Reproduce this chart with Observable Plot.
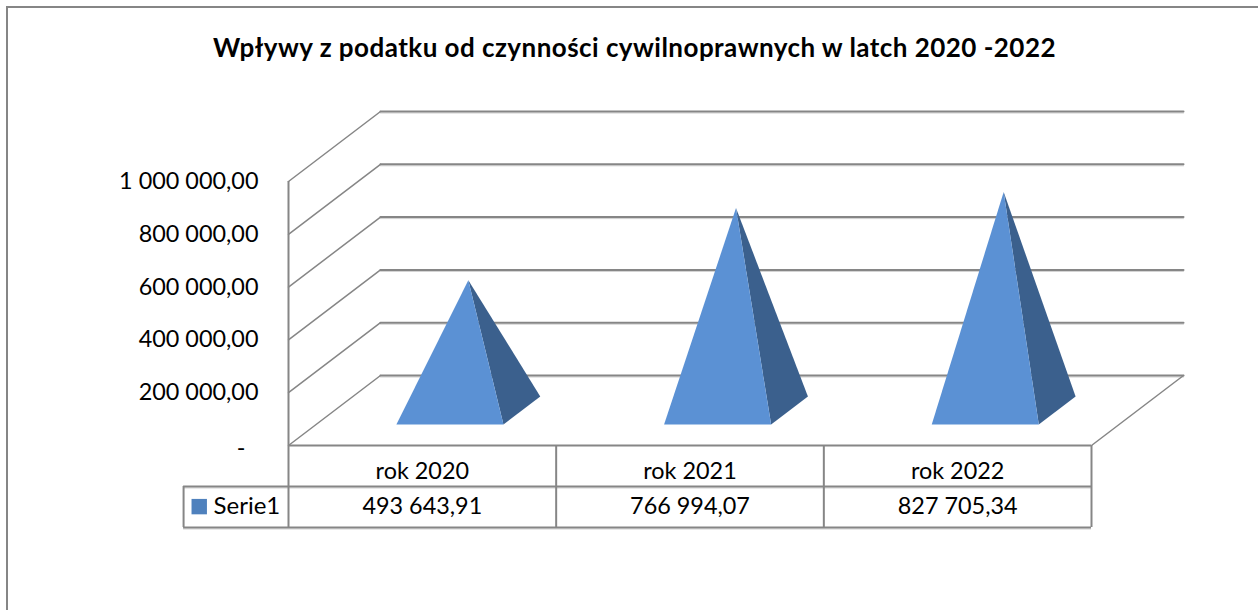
<!DOCTYPE html>
<html lang="pl">
<head>
<meta charset="utf-8">
<script src="https://cdn.jsdelivr.net/npm/d3@7"></script>
<script src="https://cdn.jsdelivr.net/npm/@observablehq/plot@0.6"></script>
<style>
html,body{margin:0;padding:0;background:#fff;width:1258px;height:610px;overflow:hidden}
#frame{position:absolute;left:6px;top:6px;right:0;bottom:-4px;border-left:2px solid #868686;border-top:2px solid #868686}
#title{position:absolute;left:0;width:1269px;top:31px;text-align:center;font:700 26px Lato,sans-serif;letter-spacing:.46px;color:#000;white-space:nowrap}
#chart{position:absolute;left:-1px;top:0}
</style>
</head>
<body>
<div id="frame"></div>
<div id="title">Wpływy z podatku od czynności cywilnoprawnych w latch 2020 -2022</div>
<div id="chart"></div>
<script>
const categories = ["rok 2020", "rok 2021", "rok 2022"];
const values = [493643.91, 766994.07, 827705.34];
const valueLabels = ["493 643,91", "766 994,07", "827 705,34"];
const yTicks = [0, 200000, 400000, 600000, 800000, 1000000];
const yTickLabels = ["-", "200 000,00", "400 000,00", "600 000,00", "800 000,00", "1 000 000,00"];
const seriesName = "Serie1";

// oblique projection: depth (0..1) shifts a point in category and value units
const depthX = 0.3437, depthY = 265150;
const px = (cat, depth) => cat + depth * depthX;
const py = (val, depth) => val + depth * depthY;
const P = (cat, depth, val, id) => ({x: px(cat, depth), y: py(val, depth), id});

// pyramid footprint inside each category slot
const a = 0.3, b = 0.7;
const frontFaces = values.flatMap((v, i) => [
  P(i + a, a, 0, i), P(i + b, a, 0, i), P(i + 0.5, 0.5, v, i)
]);
const sideFaces = values.flatMap((v, i) => [
  P(i + b, a, 0, i), P(i + b, b, 0, i), P(i + 0.5, 0.5, v, i)
]);

// walls and floor
const backGrid = yTicks.flatMap(v => [P(0, 1, v, v), P(3, 1, v, v)]);
const sideGrid = yTicks.flatMap(v => [P(0, 0, v, v), P(0, 1, v, v)]);
const floorEdge = [P(3, 0, 0, "f"), P(3, 1, 0, "f")];
const n = categories.length;

// data table below the plot, in value units under zero
const row1 = -155300, row2 = -310600, legendLeft = -0.392;
const row1Text = -98500, row2Text = -231500;
const slots = d3.range(n + 1);

const grey = "#868686", shade = "#cfcfcf";
const chart = Plot.plot({
  width: 1258, height: 610,
  marginLeft: 289, marginRight: 166, marginTop: 181, marginBottom: 165,
  x: {domain: [0, 3], range: [289, 1092], axis: null},
  y: {domain: [0, 1000000], range: [445, 181]},
  style: {background: "transparent", fontFamily: "Lato, sans-serif"},
  marks: [
    Plot.line(backGrid, {x: "x", y: "y", z: "id", stroke: shade, strokeWidth: 1, dy: 1.5}),
    Plot.line(backGrid, {x: "x", y: "y", z: "id", stroke: grey, strokeWidth: 2}),
    Plot.line(sideGrid, {x: "x", y: "y", z: "id", stroke: grey, strokeWidth: 1.5}),
    Plot.line(floorEdge, {x: "x", y: "y", stroke: grey, strokeWidth: 1.5}),
    Plot.line(sideFaces, {x: "x", y: "y", z: "id", fill: "#3b608d", stroke: "none"}),
    Plot.line(frontFaces, {x: "x", y: "y", z: "id", fill: "#5b91d4", stroke: "none"}),
    Plot.ruleY([row1, row2], {x1: legendLeft, x2: 3, stroke: shade, strokeWidth: 1, dy: 1.5}),
    Plot.ruleX([0], {y1: row2, y2: 1000000, stroke: grey, strokeWidth: 2}),
    Plot.ruleX(slots.slice(1), {y1: row2, y2: 0, stroke: grey, strokeWidth: 2}),
    Plot.ruleX([legendLeft], {y1: row1, y2: row2, stroke: grey, strokeWidth: 2}),
    Plot.ruleY([0], {x1: 0, x2: 3, stroke: grey, strokeWidth: 2}),
    Plot.ruleY([row1, row2], {x1: legendLeft, x2: 3, stroke: grey, strokeWidth: 2}),
    Plot.axisY({
      ticks: yTicks.slice(1), tickSize: 0, tickPadding: 30, label: null, fontSize: 23.4,
      tickFormat: v => yTickLabels[yTicks.indexOf(v)], stroke: "none", fill: "#000"
    }),
    Plot.text([yTickLabels[0]], {x: 0, y: yTicks[0], text: d => d, textAnchor: "end", dx: -43, dy: 3, fontSize: 23.4, fill: "#000"}),
    Plot.text(categories, {x: (d, i) => i + 0.5, y: row1Text, text: d => d, fontSize: 23.4, fill: "#000"}),
    Plot.text(valueLabels, {x: (d, i) => i + 0.5, y: row2Text, text: d => d, fontSize: 23.4, fill: "#000"}),
    Plot.dot([seriesName], {x: legendLeft + 0.0585, y: row2Text, symbol: "square", r: 8.7, fill: "#4f81bd", stroke: "none"}),
    Plot.text([seriesName], {x: -0.28, y: row2Text, text: d => d, textAnchor: "start", fontSize: 24, fill: "#000"})
  ]
});
document.getElementById("chart").append(chart);
</script>
</body>
</html>
